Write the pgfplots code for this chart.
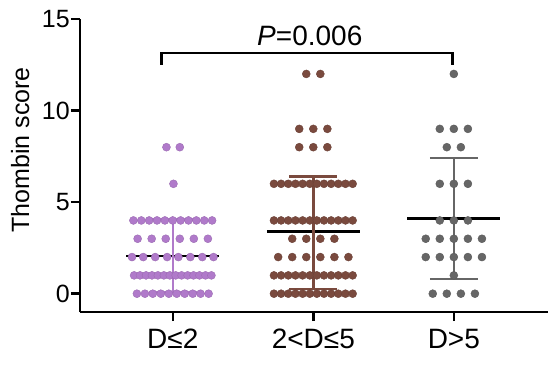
\documentclass[border=0pt]{standalone}
\usepackage{fontspec}
\setmainfont{Liberation Sans}
\usepackage{pgfplots}
\pgfplotsset{compat=1.18}
\definecolor{cpur}{RGB}{176,122,202}
\definecolor{cbrn}{RGB}{122,74,62}
\definecolor{cgry}{RGB}{102,102,102}
\begin{document}
\begin{tikzpicture}
\path[use as bounding box] (-80pt,-52pt) rectangle (471pt,312pt);
\begin{axis}[
 at={(0pt,0pt)}, anchor=south west,
 scale only axis, width=468pt, height=293pt,
 xmin=-0.66, xmax=2.67, ymin=-1, ymax=15,
 axis x line*=bottom, axis y line*=left,
 axis line style={line width=2.6pt, -},
 xtick={0,1,2}, xticklabels={D≤2, 2<D≤5, D>5},
 ytick={0,5,10,15},
 tick align=outside, major tick length=9pt,
 tick style={line width=2.4pt, black},
 /pgf/number format/assume math mode=true,
 yticklabel style={font=\fontsize{25}{30}\selectfont, inner sep=1pt},
 xticklabel style={font=\fontsize{28}{33}\selectfont, inner sep=0pt, yshift=-8pt},
 ylabel={Thombin score},
 ylabel style={font=\fontsize{25}{30}\selectfont, at={(axis description cs:-0.128,0.553)}, anchor=center},
 clip=false,
]
% mean lines
\addplot[black, line width=2.6pt] coordinates {(-0.33,2.05) (0.33,2.05)};
\addplot[black, line width=2.6pt] coordinates {(0.67,3.4) (1.33,3.4)};
\addplot[black, line width=2.6pt] coordinates {(1.67,4.1) (2.33,4.1)};
% SD bars
\addplot[cpur, line width=2.4pt] coordinates {(0,0.1) (0,4.05)};
\addplot[cpur, line width=2.4pt] coordinates {(-0.17,4.05) (0.17,4.05)};
\addplot[cpur, line width=2.4pt] coordinates {(-0.17,0.1) (0.17,0.1)};
\addplot[cbrn, line width=2.4pt] coordinates {(1,0.27) (1,6.4)};
\addplot[cbrn, line width=2.4pt] coordinates {(0.83,6.4) (1.17,6.4)};
\addplot[cbrn, line width=2.4pt] coordinates {(0.83,0.27) (1.17,0.27)};
\addplot[cgry, line width=2.4pt] coordinates {(2,0.8) (2,7.4)};
\addplot[cgry, line width=2.4pt] coordinates {(1.83,7.4) (2.17,7.4)};
\addplot[cgry, line width=2.4pt] coordinates {(1.83,0.8) (2.17,0.8)};
% dots D<=2
\addplot[only marks, mark=*, mark size=4pt, mark options={draw=cpur!88!black, line width=0.4pt, fill=cpur}] coordinates {
(-0.045,8) (0.05,8) (0.005,6)
(-0.28,4) (-0.224,4) (-0.168,4) (-0.112,4) (-0.056,4) (0,4) (0.056,4) (0.112,4) (0.168,4) (0.224,4) (0.28,4)
(-0.25,3) (-0.15,3) (-0.05,3) (0.05,3) (0.15,3) (0.25,3)
(-0.29,2) (-0.21,2) (-0.125,2) (-0.04,2) (0.04,2) (0.125,2) (0.21,2) (0.29,2)
(-0.275,1) (-0.233,1) (-0.190,1) (-0.148,1) (-0.106,1) (-0.063,1) (-0.021,1) (0.021,1) (0.063,1) (0.106,1) (0.148,1) (0.190,1) (0.233,1) (0.275,1)
(-0.255,0) (-0.198,0) (-0.142,0) (-0.085,0) (-0.028,0) (0.028,0) (0.085,0) (0.142,0) (0.198,0) (0.255,0)
};
% dots 2<D<=5
\addplot[only marks, mark=*, mark size=4pt, mark options={draw=cbrn!88!black, line width=0.4pt, fill=cbrn}] coordinates {
(0.95,12) (1.05,12)
(0.9,9) (1.0,9) (1.1,9)
(0.9,8) (1.0,8) (1.1,8)
(0.72,6) (0.771,6) (0.822,6) (0.873,6) (0.924,6) (0.975,6) (1.025,6) (1.076,6) (1.127,6) (1.178,6) (1.229,6) (1.28,6)
(0.72,4) (0.771,4) (0.822,4) (0.873,4) (0.924,4) (0.975,4) (1.025,4) (1.076,4) (1.127,4) (1.178,4) (1.229,4) (1.28,4)
(0.85,3) (0.95,3) (1.05,3) (1.15,3)
(0.75,2) (0.85,2) (0.95,2) (1.05,2) (1.15,2) (1.25,2)
(0.72,1) (0.771,1) (0.822,1) (0.873,1) (0.924,1) (0.975,1) (1.025,1) (1.076,1) (1.127,1) (1.178,1) (1.229,1) (1.28,1)
(0.72,0) (0.771,0) (0.822,0) (0.873,0) (0.924,0) (0.975,0) (1.025,0) (1.076,0) (1.127,0) (1.178,0) (1.229,0) (1.28,0)
};
% dots D>5
\addplot[only marks, mark=*, mark size=4pt, mark options={draw=cgry!88!black, line width=0.4pt, fill=cgry}] coordinates {
(2.0,12)
(1.9,9) (2.0,9) (2.1,9)
(1.95,8) (2.05,8)
(1.9,6) (2.0,6) (2.1,6)
(1.9,4) (2.0,4) (2.1,4)
(1.8,3) (1.9,3) (2.0,3) (2.1,3) (2.2,3)
(1.8,2) (1.9,2) (2.0,2) (2.1,2) (2.2,2)
(2.0,1)
(1.85,0) (1.95,0) (2.05,0) (2.15,0)
};
% significance bracket
\addplot[black, line width=2.5pt, line join=miter] coordinates {(-0.08,12.5) (-0.08,13.15) (1.99,13.15) (1.99,12.5)};
\node[anchor=base, inner sep=0pt, font=\fontsize{28}{33}\selectfont] at (axis cs:0.975,13.58) {\textit{P}=0.006};
\end{axis}
\end{tikzpicture}
\end{document}
